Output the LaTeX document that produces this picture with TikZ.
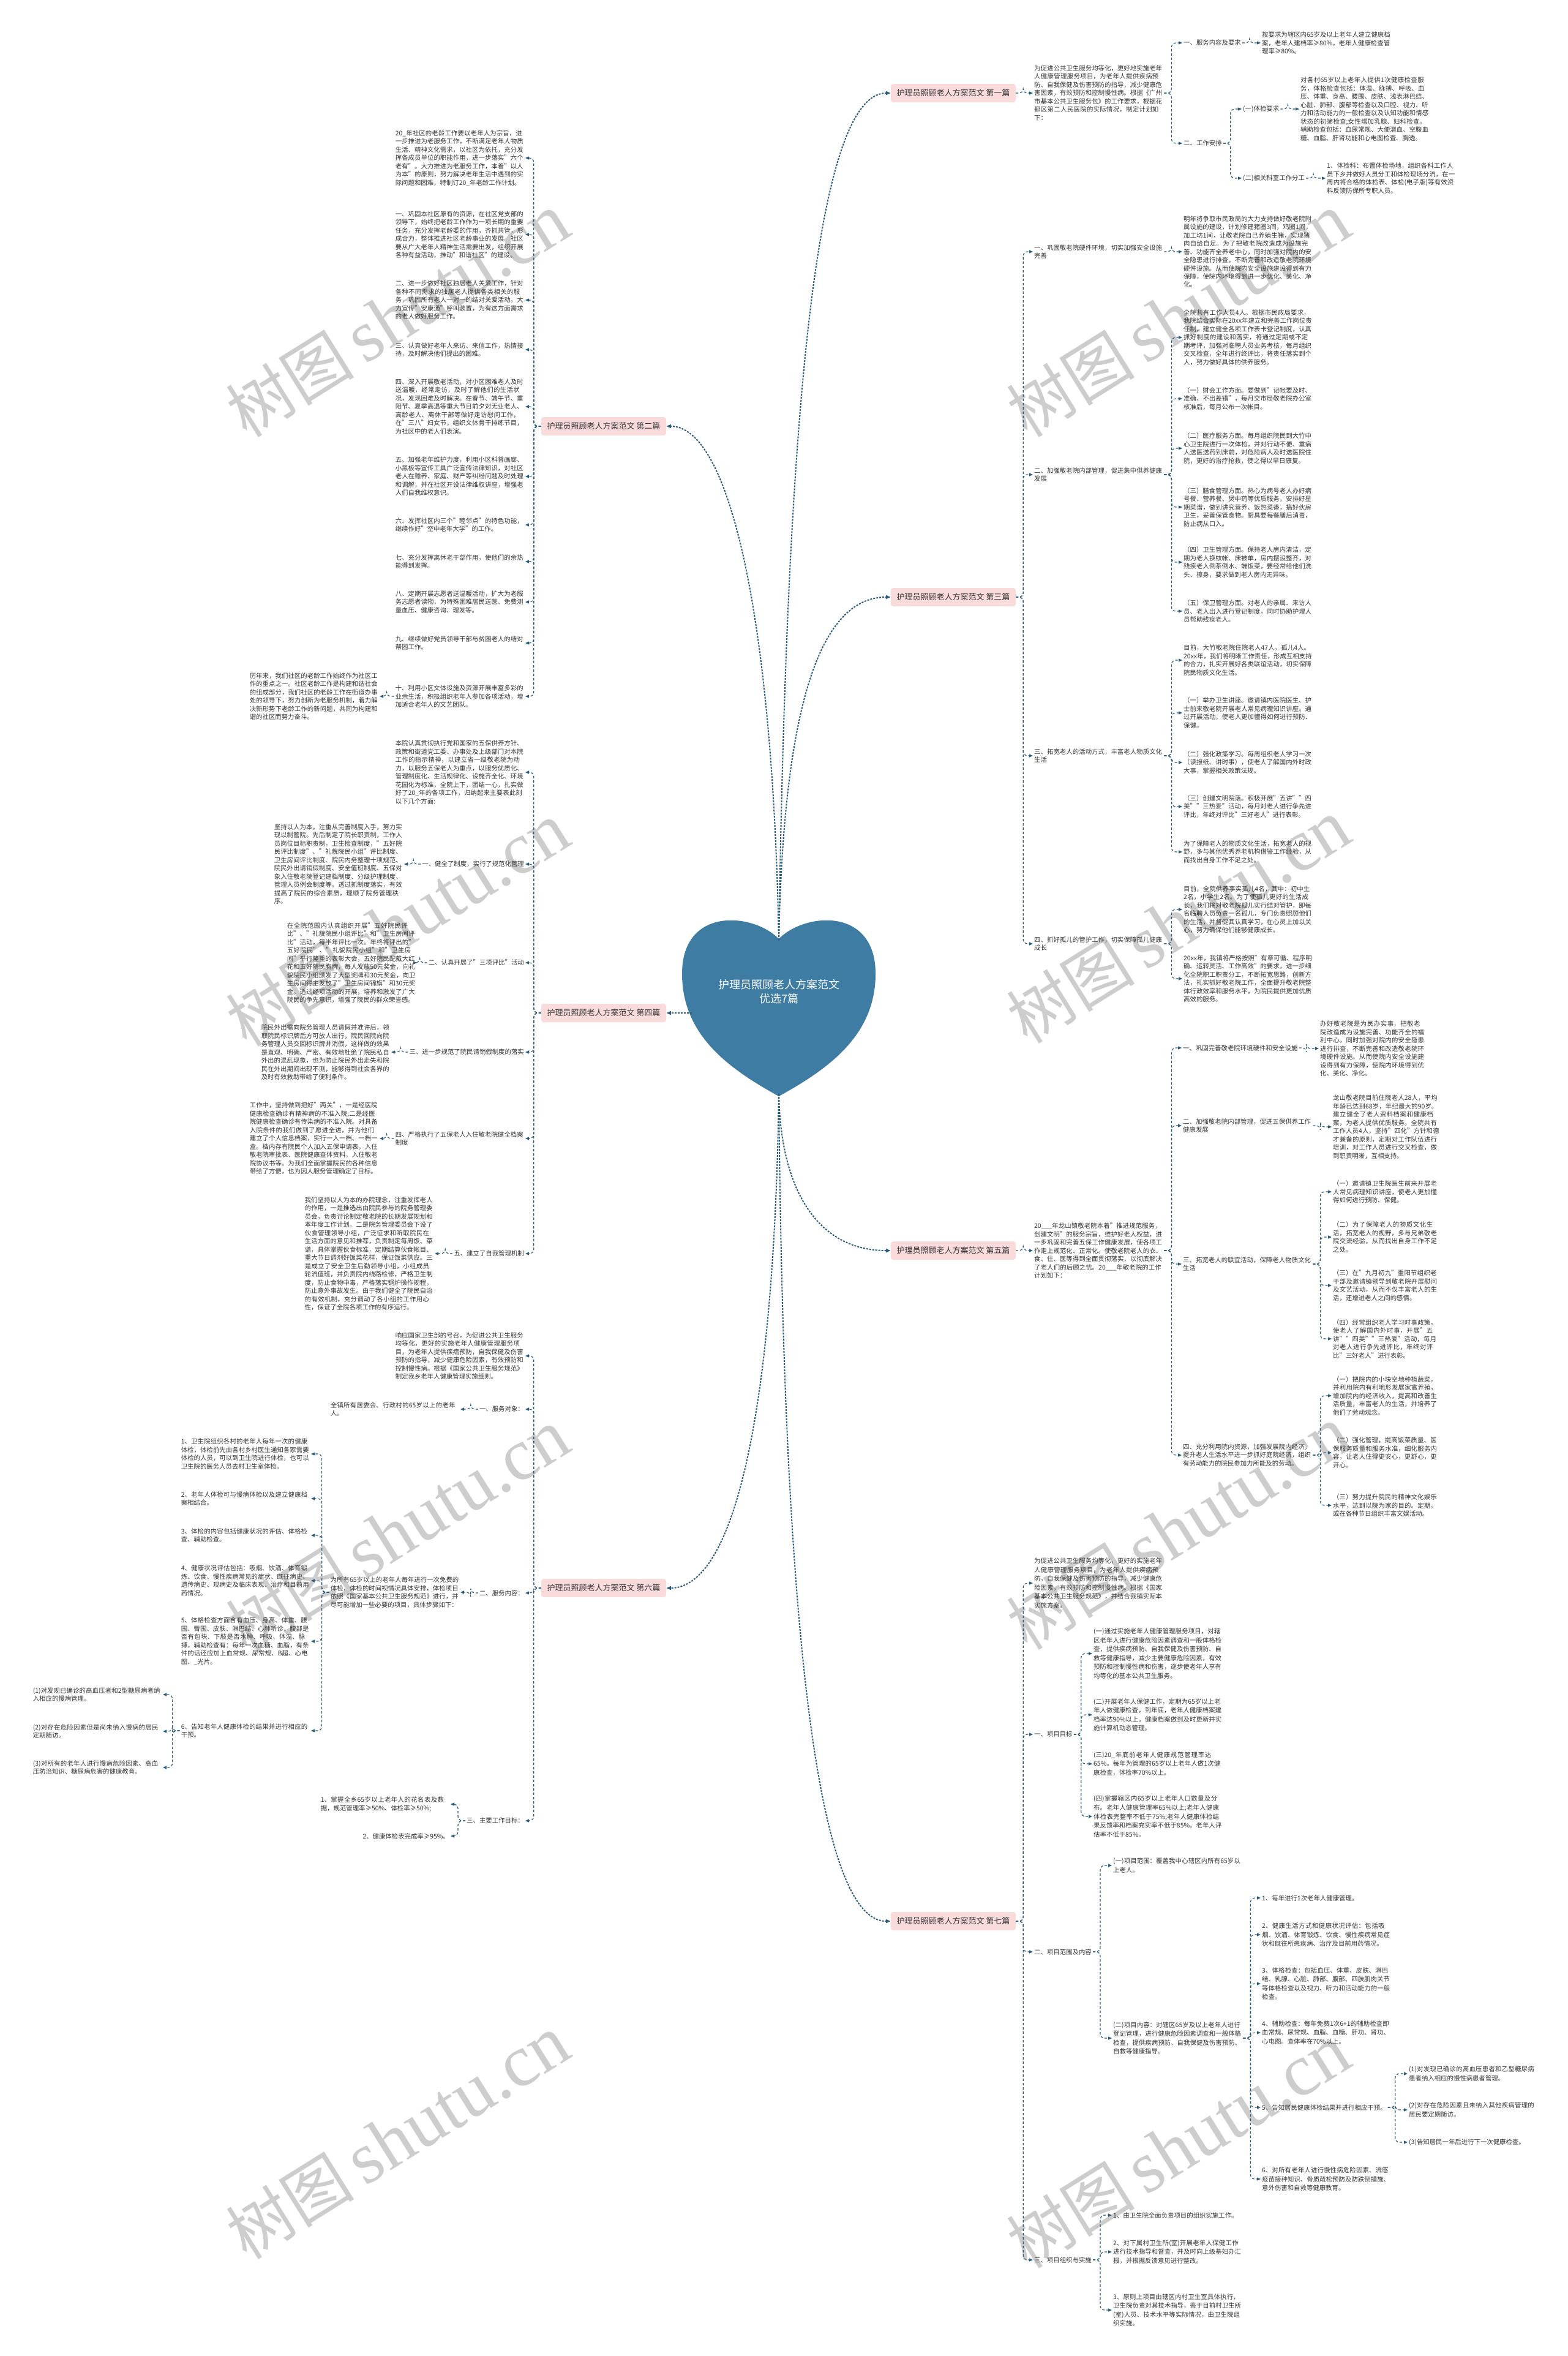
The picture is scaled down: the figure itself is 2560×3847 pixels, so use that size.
\documentclass[tikz,border=0pt]{standalone}
\usepackage{fontspec}
\setmainfont{Noto Sans CJK SC}
\newfontfamily\wmlatin{Liberation Serif}
\usetikzlibrary{arrows.meta}
\XeTeXlinebreaklocale "zh"
\XeTeXlinebreakskip=0pt plus 1pt
\definecolor{heartblue}{RGB}{62,124,164}
\definecolor{linec}{RGB}{44,92,124}
\definecolor{labelpink}{RGB}{250,219,219}
\definecolor{txtc}{RGB}{51,51,51}
\definecolor{wmc}{RGB}{205,205,205}
\newcommand{\rlink}[2]{\draw[cline] (#1.east) -- ++(12,0) |- (#2.west);}
\newcommand{\llink}[2]{\draw[cline] (#1.west) -- ++(-12,0) |- (#2.east);}
\begin{document}
\begin{tikzpicture}[x=1pt,y=-1pt,
  tnode/.style={font=\fontsize{10.4}{13.5}\selectfont, text=txtc, inner xsep=2pt, inner ysep=2pt, align=left},
  wnode/.style={tnode, text width=210pt},
  nnode/.style={tnode, text width=175pt},
  tnodeb/.style={tnode, font=\fontsize{10.4}{14.6}\selectfont},
  wnodeb/.style={tnodeb, text width=210pt},
  ra/.style={anchor=west}, la/.style={anchor=east},
  lblbox/.style={fill=labelpink, rounded corners=4pt, minimum width=204pt, minimum height=30pt, font=\fontsize{13}{15}\selectfont, text=txtc, inner xsep=6pt},
  cline/.style={draw=linec, line width=1.2pt, dash pattern=on 4pt off 3pt, rounded corners=7pt, -{Triangle[length=6pt,width=5pt]}},
  mline/.style={draw=linec, line width=2pt, dash pattern=on 3pt off 2pt, -{Triangle[length=8pt,width=6pt]}},
  wmark/.style={rotate=32, text=wmc, inner sep=0pt}
]
\useasboundingbox (0,0) rectangle (2560,3847);
\fill[white] (0,0) rectangle (2560,3847);

% watermarks
\foreach \wx/\wy in {650/515, 1925/515, 650/1510, 1925/1505, 650/2500, 1925/2495, 650/3490, 1925/3505}
  \node[wmark] at (\wx,\wy) {\fontsize{105}{105}\selectfont 树图\hspace{18pt}{\wmlatin\fontsize{120}{120}\selectfont shutu.cn}};

% heart
\fill[heartblue] (1272,1533) .. controls (1230,1490) and (1114,1480) .. (1114,1590) .. controls (1114,1690) and (1190,1745) .. (1272,1790) .. controls (1354,1745) and (1430,1690) .. (1430,1590) .. controls (1430,1480) and (1314,1490) .. (1272,1533) -- cycle;
\node[font=\fontsize{18}{23}\selectfont, text=white, align=center] (hc) at (1272,1619) {护理员照顾老人方案范文\\优选7篇};
\coordinate (htop) at (1272,1535);
\coordinate (hbot) at (1272,1786);
\coordinate (hleft) at (1130,1654);

% labels
\node[lblbox] (L1) at (1557,152) {护理员照顾老人方案范文 第一篇};
\node[lblbox] (L2) at (986,696) {护理员照顾老人方案范文 第二篇};
\node[lblbox] (L3) at (1557,975) {护理员照顾老人方案范文 第三篇};
\node[lblbox] (L4) at (986,1654) {护理员照顾老人方案范文 第四篇};
\node[lblbox] (L5) at (1557,2042) {护理员照顾老人方案范文 第五篇};
\node[lblbox] (L6) at (986,2593) {护理员照顾老人方案范文 第六篇};
\node[lblbox] (L7) at (1557,3137) {护理员照顾老人方案范文 第七篇};

\draw[mline] (htop) .. controls (1285,700) and (1330,152) .. (L1.west);
\draw[mline] (htop) .. controls (1262,1000) and (1190,696) .. (L2.east);
\draw[mline] (htop) .. controls (1280,1150) and (1340,975) .. (L3.west);
\draw[mline] (hleft) -- (L4.east);
\draw[mline] (hbot) .. controls (1275,1950) and (1340,2042) .. (L5.west);
\draw[mline] (hbot) .. controls (1265,2300) and (1200,2593) .. (L6.east);
\draw[mline] (hbot) .. controls (1280,2700) and (1340,3137) .. (L7.west);

% ===== 第一篇 =====
\node[wnode,ra] (a1) at (1687,152) {为促进公共卫生服务均等化，更好地实施老年人健康管理服务项目，为老年人提供疾病预防、自我保健及伤害预防的指导，减少健康危害因素，有效预防和控制慢性病。根据《广州市基本公共卫生服务包》的工作要求，根据花都区第二人民医院的实际情况，制定计划如下：};
\node[tnode,ra] (a1a) at (1931,70) {一、服务内容及要求};
\node[wnode,ra] (a1a1) at (2059,70) {按要求为辖区内65岁及以上老年人建立健康档案，老年人建档率≥80\%，老年人健康检查管理率≥80\%。};
\node[tnode,ra] (a1b) at (1931,234) {二、工作安排};
\node[tnode,ra] (a1b1) at (2028,178) {(一)体检要求};
\node[wnode,ra] (a1b1x) at (2122,178) {对各村65岁以上老年人提供1次健康检查服务，体格检查包括：体温、脉搏、呼吸、血压、体重、身高、腰围、皮肤、浅表淋巴结、心脏、肺部、腹部等检查以及口腔、视力、听力和活动能力的一般检查以及认知功能和情感状态的初筛检查;女性增加乳腺、妇科检查。辅助检查包括：血尿常规、大便潜血、空腹血糖、血脂、肝肾功能和心电图检查、胸透。};
\node[tnode,ra] (a1b2) at (2028,291) {(二)相关科室工作分工};
\node[wnode,ra] (a1b2x) at (2165,291) {1、体检科：布置体检场地，组织各科工作人员下乡并做好人员分工和体检现场分流，在一周内将合格的体检表、体检(电子版)等有效资料反馈防保所专职人员。};
\rlink{L1}{a1}
\rlink{a1}{a1a} \rlink{a1}{a1b}
\rlink{a1a}{a1a1}
\rlink{a1b}{a1b1} \rlink{a1b}{a1b2}
\rlink{a1b1}{a1b1x} \rlink{a1b2}{a1b2x}

% ===== 第三篇 =====
\node[wnode,ra] (b1) at (1687,411) {一、巩固敬老院硬件环境，切实加强安全设施完善};
\node[wnode,ra] (b1x) at (1931,411) {明年将争取市民政局的大力支持做好敬老院附属设施的建设，计划修建猪圈3间，鸡圈1间，加工坊1间，让敬老院自己养殖生猪，实现猪肉自给自足。为了把敬老院改造成为设施完善、功能齐全养老中心，同时加强对院内的安全隐患进行排查，不断完善和改造敬老院环境硬件设施。从而使院内安全设施建设得到有力保障，使院内环境得到进一步优化、美化、净化。};
\node[wnode,ra] (b2) at (1687,775) {二、加强敬老院内部管理，促进集中供养健康发展};
\node[wnode,ra] (b2a) at (1931,551) {全院共有工作人员4人。根据市民政局要求，我院结合实际在20xx年建立和完善工作岗位责任制，建立健全各项工作表卡登记制度，认真抓好制度的建设和落实，将通过定期或不定期考评，加强对临聘人员业务考核，每月组织交叉检查，全年进行终评比，将责任落实到个人，努力做好具体的供养服务。};
\node[wnode,ra] (b2b) at (1931,651) {（一）财会工作方面。要做到"记帐要及时、准确、不出差错"，每月交市局敬老院办公室核准后，每月公布一次帐目。};
\node[wnode,ra] (b2c) at (1931,732) {（二）医疗服务方面。每月组织院民到大竹中心卫生院进行一次体检，并对行动不便、重病人送医送药到床前，对危险病人及时送医院住院，更好的治疗抢救，使之得以早日康复。};
\node[wnode,ra] (b2d) at (1931,828) {（三）膳食管理方面。热心为病号老人办好病号餐、营养餐、煲中药等优质服务，安排好星期菜谱，做到讲究营养、饭热菜香，搞好伙房卫生，妥善保管食物。厨具要每餐膳后消毒，防止病从口入。};
\node[wnode,ra] (b2e) at (1931,918) {（四）卫生管理方面。保持老人房内清洁，定期为老人换蚊帐、床被单，房内摆设整齐，对残疾老人倒茶倒水、端饭菜，要经常给他们洗头、擦身，要求做到老人房内无异味。};
\node[wnode,ra] (b2f) at (1931,998) {（五）保卫管理方面。对老人的亲属、来访人员、老人出入进行登记制度，同时协助护理人员帮助残疾老人。};
\node[wnode,ra] (b3) at (1687,1234) {三、拓宽老人的活动方式，丰富老人物质文化生活};
\node[wnode,ra] (b3a) at (1931,1078) {目前，大竹敬老院住院老人47人，孤儿4人。20xx年，我们将明晰工作责任，形成互相支持的合力，扎实开展好各类联谊活动，切实保障院民物质文化生活。};
\node[wnode,ra] (b3b) at (1931,1164) {（一）举办卫生讲座。邀请镇内医院医生、护士前来敬老院开展老人常见病理知识讲座。通过开展活动，使老人更加懂得如何进行预防、保健。};
\node[wnode,ra] (b3c) at (1931,1245) {（二）强化政策学习。每周组织老人学习一次（读报纸、讲时事），使老人了解国内外时政大事，掌握相关政策法规。};
\node[wnode,ra] (b3d) at (1931,1317) {（三）创建文明院落。积极开展"五讲""四美""三热爱"活动，每月对老人进行争先进评比，年终对评比"三好老人"进行表彰。};
\node[wnode,ra] (b3e) at (1931,1391) {为了保障老人的物质文化生活，拓宽老人的视野，多与其他优秀养老机构借鉴工作经验，从而找出自身工作不足之处。};
\node[wnode,ra] (b4) at (1687,1541) {四、抓好孤儿的管护工作，切实保障孤儿健康成长};
\node[wnode,ra] (b4a) at (1931,1485) {目前，全院供养事实孤儿4名，其中：初中生2名，小学生2名。为了使孤儿更好的生活成长，我们将对敬老院孤儿实行结对管护，即每名临聘人员负责一名孤儿，专门负责照顾他们的生活，并督促其认真学习，在心灵上加以关心，努力确保他们能够健康成长。};
\node[wnode,ra] (b4b) at (1931,1598) {20xx年，我镇将严格按照"有章可循、程序明确、运转灵活、工作高效"的要求，进一步细化全院职工职责分工，不断拓宽思路，创新方法，扎实抓好敬老院工作，全面提升敬老院整体行政效率和服务水平，为院民提供更加优质高效的服务。};
\rlink{L3}{b1} \rlink{L3}{b2} \rlink{L3}{b3} \rlink{L3}{b4}
\rlink{b1}{b1x}
\rlink{b2}{b2a} \rlink{b2}{b2b} \rlink{b2}{b2c} \rlink{b2}{b2d} \rlink{b2}{b2e} \rlink{b2}{b2f}
\rlink{b3}{b3a} \rlink{b3}{b3b} \rlink{b3}{b3c} \rlink{b3}{b3d} \rlink{b3}{b3e}
\rlink{b4}{b4a} \rlink{b4}{b4b}

% ===== 第五篇 =====
\node[wnode,ra] (c0) at (1687,2042) {20\_\_\_年龙山镇敬老院本着"推进规范服务，创建文明"的服务宗旨，维护好老人权益，进一步巩固和完善五保工作健康发展，使各项工作走上规范化、正常化。使敬老院老人的衣、食、住、医等得到全面贯彻落实，以彻底解决了老人们的后顾之忧。20\_\_\_年敬老院的工作计划如下：};
\node[tnode,ra] (c1) at (1930,1711) {一、巩固完善敬老院环境硬件和安全设施};
\node[nnode,ra] (c1x) at (2154,1712) {办好敬老院是为民办实事，把敬老院改造成为设施完善、功能齐全的福利中心，同时加强对院内的安全隐患进行排查，不断完善和改造敬老院环境硬件设施。从而使院内安全设施建设得到有力保障，使院内环境得到优化、美化、净化。};
\node[wnode,ra] (c2) at (1930,1838) {二、加强敬老院内部管理，促进五保供养工作健康发展};
\node[nnode,ra] (c2x) at (2175,1840) {龙山敬老院目前住院老人28人，平均年龄已达到68岁，年纪最大的90岁。建立健全了老人资料档案和健康档案，为老人提供优质服务。全院共有工作人员4人，坚持"四化"方针和德才兼备的原则，定期对工作队伍进行培训，对工作人员进行交叉检查，做到职责明晰，互相支持。};
\node[wnode,ra] (c3) at (1930,2064) {三、拓宽老人的联宜活动，保障老人物质文化生活};
\node[nnode,ra] (c3a) at (2175,1946) {（一）邀请镇卫生院医生前来开展老人常见病理知识讲座，使老人更加懂得如何进行预防、保健。};
\node[nnode,ra] (c3b) at (2175,2020) {（二）为了保障老人的物质文化生活，拓宽老人的视野，多与兄弟敬老院交流经验，从而找出自身工作不足之处。};
\node[nnode,ra] (c3c) at (2175,2099) {（三）在"九月初九"重阳节组织老干部及邀请镇领导到敬老院开展慰问及文艺活动，从而不仅丰富老人的生活，还增进老人之间的感情。};
\node[nnode,ra] (c3d) at (2175,2186) {（四）经常组织老人学习时事政策，使老人了解国内外时事，开展"五讲""四美""三热爱"活动，每月对老人进行争先进评比，年终对评比"三好老人"进行表彰。};
\node[wnode,ra] (c4) at (1930,2376) {四、充分利用院内资源，加强发展院内经济，提升老人生活水平进一步抓好庭院经济，组织有劳动能力的院民参加力所能及的劳动。};
\node[nnode,ra] (c4a) at (2175,2279) {（一）把院内的小块空地种植蔬菜，并利用院内有利地形发展家禽养殖，增加院内的经济收入，提高和改善生活质量，丰富老人的生活，并培养了他们了劳动观念。};
\node[nnode,ra] (c4b) at (2175,2372) {（二）强化管理，提高饭菜质量、医保服务质量和服务水准，细化服务内容，让老人住得更安心，更舒心，更开心。};
\node[nnode,ra] (c4c) at (2175,2458) {（三）努力提升院民的精神文化娱乐水平，达到以院为家的目的。定期，或在各种节日组织丰富文娱活动。};
\rlink{L5}{c0}
\rlink{c0}{c1} \rlink{c0}{c2} \rlink{c0}{c3} \rlink{c0}{c4}
\rlink{c1}{c1x} \rlink{c2}{c2x}
\rlink{c3}{c3a} \rlink{c3}{c3b} \rlink{c3}{c3c} \rlink{c3}{c3d}
\rlink{c4}{c4a} \rlink{c4}{c4b} \rlink{c4}{c4c}

% ===== 第七篇 =====
\node[wnodeb,ra] (d0) at (1687,2585) {为促进公共卫生服务均等化，更好的实施老年人健康管理服务项目，为老年人提供疾病预防，自我保健及伤害预防的指导，减少健康危险因素，有效预防和控制慢性病。根据《国家基本公共卫生服务规范》，并结合我镇实际本实施方案。};
\node[tnodeb,ra] (d1) at (1687,2832) {一、项目目标};
\node[wnodeb,ra] (d1a) at (1784,2700) {(一)通过实施老年人健康管理服务项目，对辖区老年人进行健康危险因素调查和一般体格检查，提供疾病预防、自我保健及伤害预防、自救等健康指导，减少主要健康危险因素，有效预防和控制慢性病和伤害，逐步使老年人享有均等化的基本公共卫生服务。};
\node[wnodeb,ra] (d1b) at (1784,2800) {(二)开展老年人保健工作，定期为65岁以上老年人做健康检查，到年底，老年人健康档案建档率达90\%以上。健康档案做到及时更新并实施计算机动态管理。};
\node[wnodeb,ra] (d1c) at (1784,2880) {(三)20\_年底前老年人健康规范管理率达65\%。每年为管理的65岁以上老年人做1次健康检查，体检率70\%以上。};
\node[wnodeb,ra] (d1d) at (1784,2966) {(四)掌握辖区内65岁以上老年人口数量及分布。老年人健康管理率65\%以上;老年人健康体检表完整率不低于75\%;老年人健康体检结果反馈率和档案充实率不低于85\%。老年人评估率不低于85\%。};
\node[tnodeb,ra] (d2) at (1687,3187) {二、项目范围及内容};
\node[wnodeb,ra] (d2a) at (1816,3046) {(一)项目范围：覆盖我中心辖区内所有65岁以上老人。};
\node[wnodeb,ra] (d2b) at (1816,3328) {(二)项目内容：对辖区65岁及以上老年人进行登记管理，进行健康危险因素调查和一般体格检查，提供疾病预防、自我保健及伤害预防、自救等健康指导。};
\node[tnodeb,ra] (e1) at (2059,3099) {1、每年进行1次老年人健康管理。};
\node[wnodeb,ra] (e2) at (2059,3159) {2、健康生活方式和健康状况评估：包括吸烟、饮酒、体育锻炼、饮食、慢性疾病常见症状和既往所患疾病、治疗及目前用药情况。};
\node[wnodeb,ra] (e3) at (2059,3239) {3、体格检查：包括血压、体重、皮肤、淋巴结、乳腺、心脏、肺部、腹部、四肢肌肉关节等体格检查以及视力、听力和活动能力的一般检查。};
\node[wnodeb,ra] (e4) at (2059,3319) {4、辅助检查：每年免费1次6+1的辅助检查即血常规、尿常规、血脂、血糖、肝功、肾功、心电图。查体率在70\%以上。};
\node[tnodeb,ra] (e5) at (2059,3441) {5、告知居民健康体检结果并进行相应干预。};
\node[wnodeb,ra] (f1) at (2299,3386) {(1)对发现已确诊的高血压患者和乙型糖尿病患者纳入相应的慢性病患者管理。};
\node[wnodeb,ra] (f2) at (2299,3445) {(2)对存在危险因素且未纳入其他疾病管理的居民要定期随访。};
\node[tnodeb,ra] (f3) at (2299,3498) {(3)告知居民一年后进行下一次健康检查。};
\node[wnodeb,ra] (e6) at (2059,3558) {6、对所有老年人进行慢性病危险因素、流感疫苗接种知识、骨质疏松预防及防跌倒措施、意外伤害和自救等健康教育。};
\node[tnodeb,ra] (d3) at (1687,3690) {三、项目组织与实施};
\node[tnodeb,ra] (g1) at (1816,3617) {1、由卫生院全面负责项目的组织实施工作。};
\node[wnodeb,ra] (g2) at (1816,3677) {2、对下属村卫生所(室)开展老年人保健工作进行技术指导和督查，并及时向上级基妇办汇报，并根据反馈意见进行整改。};
\node[wnodeb,ra] (g3) at (1816,3772) {3、原则上项目由辖区内村卫生室具体执行，卫生院负责对其技术指导，鉴于目前村卫生所(室)人员、技术水平等实际情况，由卫生院组织实施。};
\rlink{L7}{d0} \rlink{L7}{d1} \rlink{L7}{d2} \rlink{L7}{d3}
\rlink{d1}{d1a} \rlink{d1}{d1b} \rlink{d1}{d1c} \rlink{d1}{d1d}
\rlink{d2}{d2a} \rlink{d2}{d2b}
\rlink{d2b}{e1} \rlink{d2b}{e2} \rlink{d2b}{e3} \rlink{d2b}{e4} \rlink{d2b}{e5} \rlink{d2b}{e6}
\rlink{e5}{f1} \rlink{e5}{f2} \rlink{e5}{f3}
\rlink{d3}{g1} \rlink{d3}{g2} \rlink{d3}{g3}

% ===== 第二篇 =====
\node[wnode,la] (h0) at (858,258) {20\_年社区的老龄工作要以老年人为宗旨，进一步推进为老服务工作，不断满足老年人物质生活、精神文化需求，以社区为依托，充分发挥各成员单位的职能作用，进一步落实"六个老有"。大力推进为老服务工作，本着"以人为本"的原则，努力解决老年生活中遇到的实际问题和困难，特制订20\_年老龄工作计划。};
\node[wnode,la] (h1) at (858,383) {一、巩固本社区原有的资源，在社区党支部的领导下，始终把老龄工作作为一项长期的重要任务，充分发挥老龄委的作用，齐抓共管，形成合力，整体推进社区老龄事业的发展。社区要从广大老年人精神生活需要出发，组织开展各种有益活动，推动"和谐社区"的建设。};
\node[wnode,la] (h2) at (858,490) {二、进一步做好社区独居老人关爱工作，针对各种不同需求的独居老人提供各类相关的服务，巩固所有老人一对一的结对关爱活动。大力宣传"安康通"呼叫装置，为有这方面需求的老人做好服务工作。};
\node[wnode,la] (h3) at (858,571) {三、认真做好老年人来访、来信工作，热情接待，及时解决他们提出的困难。};
\node[wnode,la] (h4) at (858,664) {四、深入开展敬老活动，对小区困难老人及时送温暖，经常走访，及时了解他们的生活状况，发现困难及时解决。在春节、端午节、重阳节、夏季高温等重大节日前夕对无业老人、高龄老人、离休干部等做好走访慰问工作，在"三八"妇女节，组织文体骨干排练节目，为社区中的老人们表演。};
\node[wnode,la] (h5) at (858,778) {五、加强老年维护力度，利用小区科普画廊、小黑板等宣传工具广泛宣传法律知识，对社区老人在赡养、家庭、财产等纠纷问题及时处理和调解，并在社区开设法律维权讲座，增强老人们自我维权意识。};
\node[wnode,la] (h6) at (858,857) {六、发挥社区内三个"睦邻点"的特色功能，继续作好"空中老年大学"的工作。};
\node[wnode,la] (h7) at (858,917) {七、充分发挥离休老干部作用，使他们的余热能得到发挥。};
\node[wnode,la] (h8) at (858,983) {八、定期开展志愿者送温暖活动，扩大为老服务志愿者读物，为特殊困难居民送医、免费测量血压、健康咨询、理发等。};
\node[wnode,la] (h9) at (858,1050) {九、继续做好党员领导干部与贫困老人的结对帮困工作。};
\node[wnode,la] (h10) at (858,1137) {十、利用小区文体设施及资源开展丰富多彩的业余生活，积极组织老年人参加各项活动，增加适合老年人的文艺团队。};
\node[wnode,la] (h10x) at (620,1137) {历年来，我们社区的老龄工作始终作为社区工作的重点之一。社区老龄工作是构建和谐社会的组成部分，我们社区的老龄工作在街道办事处的领导下，努力创新为老服务机制，着力解决新形势下老龄工作的新问题，共同为构建和谐的社区而努力奋斗。};
\llink{L2}{h0} \llink{L2}{h1} \llink{L2}{h2} \llink{L2}{h3} \llink{L2}{h4} \llink{L2}{h5}
\llink{L2}{h6} \llink{L2}{h7} \llink{L2}{h8} \llink{L2}{h9} \llink{L2}{h10}
\llink{h10}{h10x}

% ===== 第四篇 =====
\node[wnode,la] (i0) at (858,1261) {本院认真贯彻执行党和国家的五保供养方针、政策和街道党工委、办事处及上级部门对本院工作的指示精神，以建立省一级敬老院为动力，以服务五保老人为重点，以服务优质化、管理制度化、生活规律化、设施齐全化、环境花园化为标准，全院上下，团结一心，扎实做好了20\_年的各项工作，归纳起来主要表此刻以下几个方面:};
\node[tnode,la] (i1) at (858,1411) {一、健全了制度，实行了规范化管理};
\node[wnode,la] (i1x) at (660,1411) {坚持以人为本，注重从完善制度入手，努力实现以制管院。先后制定了院长职责制，工作人员岗位目标职责制，卫生检查制度，"五好院民评比制度"、"礼貌院民小组"评比制度、卫生房间评比制度、院民内务整理十项规范、院民外出请销假制度、安全值班制度、五保对象入住敬老院登记建档制度、分级护理制度、管理人员例会制度等。透过抓制度落实，有效提高了院民的综合素质，理顺了院务管理秩序。};
\node[tnode,la] (i2) at (858,1572) {二、认真开展了"三项评比"活动};
\node[wnode,la] (i2x) at (681,1572) {在全院范围内认真组织开展"五好院民评比"、"礼貌院民小组评比"和"卫生房间评比"活动，每半年评比一次。年终将评出的"五好院民"、"礼貌院民小组"和"卫生房间"举行隆重的表彰大会，五好院民配戴大红花和五好院民胸牌，每人发放50元奖金，向礼貌院民小组颁发了大型奖牌和30元奖金，向卫生房间得主发放了"卫生房间锦旗"和30元奖金。透过经项活动的开展，培养和激发了广大院民的争先意识，增强了院民的群众荣誉感。};
\node[tnode,la] (i3) at (858,1718) {三、进一步规范了院民请销假制度的落实};
\node[wnode,la] (i3x) at (639,1718) {院民外出需向院务管理人员请假并准许后，领取院民标识牌后方可放人出行，院民回院向院务管理人员交回标识牌并消假，这样做的效果是直观、明确、严密、有效地杜绝了院民私自外出的混乱现象，也为防止院民外出走失和院民在外出期间出现不测，能够得到社会各界的及时有效救助带给了便利条件。};
\node[wnode,la] (i4) at (858,1859) {四、严格执行了五保老人入住敬老院健全档案制度};
\node[wnode,la] (i4x) at (620,1859) {工作中，坚持做到把好"两关"，一是经医院健康检查确诊有精神病的不准入院;二是经医院健康检查确诊有传染病的不准入院。对具备入院条件的我们做到了愿进全进，并为他们建立了个人信息档案，实行一人一档、一档一盒。档内存有院民个人加入五保申请表，入住敬老院审批表、医院健康查体资料，入住敬老院协议书等。为我们全面掌握院民的各种信息带给了方便，也为因人服务管理确定了目标。};
\node[tnode,la] (i5) at (858,2047) {五、建立了自我管理机制};
\node[wnode,la] (i5x) at (710,2047) {我们坚持以人为本的办院理念，注重发挥老人的作用，一是推选出由院民参与的院务管理委员会，负责讨论制定敬老院的长期发展规划和本年度工作计划。二是院务管理委员会下设了伙食管理领导小组，广泛征求和听取院民在生活方面的意见和推荐，负责制定每周饭、菜谱，具体掌握伙食标准，定期结算伙食帐目、重大节日调剂好饭菜花样，保证饭菜供应。三是成立了安全卫生后勤领导小组，小组成员轮流值班，并负责院内线路检修，严格卫生制度，防止食物中毒，严格落实锅炉操作规程，防止意外事故发生。由于我们健全了院民自治的有效机制，充分调动了各小组的工作用心性，保证了全院各项工作的有序运行。};
\llink{L4}{i0} \llink{L4}{i1} \llink{L4}{i2} \llink{L4}{i3} \llink{L4}{i4} \llink{L4}{i5}
\llink{i1}{i1x} \llink{i2}{i2x} \llink{i3}{i3x} \llink{i4}{i4x} \llink{i5}{i5x}

% ===== 第六篇 =====
\node[wnode,la] (j0) at (858,2214) {响应国家卫生部的号召，为促进公共卫生服务均等化，更好的实施老年人健康管理服务项目，为老年人提供疾病预防，自我保健及伤害预防的指导，减少健康危险因素，有效预防和控制慢性病。根据《国家公共卫生服务规范》制定我乡老年人健康管理实施细则。};
\node[tnode,la] (j1) at (858,2301) {一、服务对象：};
\node[wnode,la] (j1x) at (752,2301) {全镇所有居委会、行政村的65岁以上的老年人。};
\node[tnode,la] (j2) at (858,2601) {二、服务内容：};
\node[wnode,la] (j2x) at (752,2600) {为所有65岁以上的老年人每年进行一次免费的体检，体检的时间视情况具体安排，体检项目依照《国家基本公共卫生服务规范》进行，并尽可能增加一些必要的项目，具体步骤如下：};
\node[wnode,la] (k1) at (508,2374) {1、卫生院组织各村的老年人每年一次的健康体检，体检前先由各村乡村医生通知各家需要体检的人员，可以到卫生院进行体检，也可以卫生院的医务人员去村卫生室体检。};
\node[wnode,la] (k2) at (508,2447) {2、老年人体检可与慢病体检以及建立健康档案相结合。};
\node[wnode,la] (k3) at (508,2507) {3、体检的内容包括健康状况的评估、体格检查、辅助检查。};
\node[wnode,la] (k4) at (508,2581) {4、健康状况评估包括：吸烟、饮酒、体育锻炼、饮食、慢性疾病常见的症状、既往病史、遗传病史、现病史及临床表现、治疗和目前用药情况。};
\node[wnode,la] (k5) at (508,2680) {5、体格检查方面含有血压、身高、体重、腰围、臀围、皮肤、淋巴结、心肺听诊、腹部是否有包块、下肢是否水肿、呼吸、体温、脉搏，辅助检查有：每年一次血糖、血脂，有条件的话还应加上血常规、尿常规、B超、心电图、\_光片。};
\node[wnode,la] (k6) at (508,2826) {6、告知老年人健康体检的结果并进行相应的干预。};
\node[wnode,la] (l1) at (266,2767) {(1)对发现已确诊的高血压者和2型糖尿病者纳入相应的慢病管理。};
\node[wnode,la] (l2) at (266,2827) {(2)对存在危险因素但是尚未纳入慢病的居民定期随访。};
\node[wnode,la] (l3) at (266,2886) {(3)对所有的老年人进行慢病危险因素、高血压防治知识、糖尿病危害的健康教育。};
\node[tnode,la] (j3) at (858,2973) {三、主要工作目标：};
\node[wnode,la] (m1) at (736,2946) {1、掌握全乡65岁以上老年人的花名表及数据，规范管理率≥50\%、体检率≥50\%;};
\node[tnode,la] (m2) at (736,2998) {2、健康体检表完成率≥95\%。};
\llink{L6}{j0} \llink{L6}{j1} \llink{L6}{j2} \llink{L6}{j3}
\llink{j1}{j1x} \llink{j2}{j2x}
\llink{j2x}{k1} \llink{j2x}{k2} \llink{j2x}{k3} \llink{j2x}{k4} \llink{j2x}{k5} \llink{j2x}{k6}
\llink{k6}{l1} \llink{k6}{l2} \llink{k6}{l3}
\llink{j3}{m1} \llink{j3}{m2}
\end{tikzpicture}
\end{document}
